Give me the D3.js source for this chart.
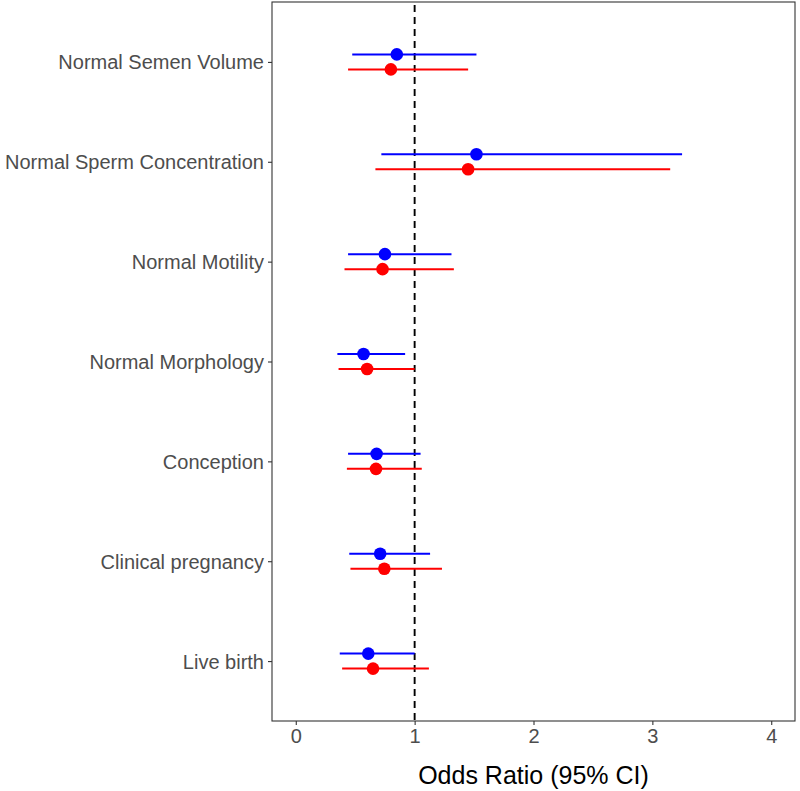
<!DOCTYPE html>
<html><head><meta charset="utf-8">
<script src="https://cdn.jsdelivr.net/npm/d3@7"></script>
<style>body{margin:0;background:#fff}svg{display:block}</style>
</head><body><svg id="c" width="800" height="791"></svg>
<script>
const categories = ["Normal Semen Volume","Normal Sperm Concentration","Normal Motility","Normal Morphology","Conception","Clinical pregnancy","Live birth"];
const blueOR = [0.85, 1.52, 0.75, 0.57, 0.68, 0.71, 0.61];
const blueLo = [0.475, 0.72, 0.44, 0.35, 0.44, 0.45, 0.37];
const blueHi = [1.52, 3.25, 1.31, 0.92, 1.05, 1.13, 1.0];
const redOR = [0.80, 1.45, 0.73, 0.60, 0.675, 0.745, 0.65];
const redLo = [0.44, 0.67, 0.41, 0.36, 0.43, 0.46, 0.39];
const redHi = [1.45, 3.15, 1.33, 1.0, 1.06, 1.23, 1.12];
const xTicks = [0, 1, 2, 3, 4];

const svg = d3.select("#c");
const L = 272, R = 795, T = 2, B = 721;
const FONT = "Liberation Sans, Arial, sans-serif";
const x = d3.scaleLinear().domain([-0.2, 4.2]).range([L, R]);
const yIdx = d3.scaleLinear().domain([0.4, 7.6]).range([B, T]);
const yPos = i => yIdx(7 - i) + 0.5;

svg.append("rect").attr("x", L).attr("y", T).attr("width", R - L).attr("height", B - T)
  .attr("fill", "#fff").attr("stroke", "#333").attr("stroke-width", 1.1);

svg.append("line").attr("x1", x(1)).attr("x2", x(1)).attr("y1", T + 3).attr("y2", B)
  .attr("stroke", "#000").attr("stroke-width", 1.9).attr("stroke-dasharray", "7,5");

const series = [
  {or: blueOR, lo: blueLo, hi: blueHi, color: "#0000FF", dy: -8},
  {or: redOR, lo: redLo, hi: redHi, color: "#FF0000", dy: 7}
];
series.forEach(s => {
  const g = svg.append("g");
  categories.forEach((c, i) => {
    const yy = yPos(i) + s.dy;
    g.append("line").attr("x1", x(s.lo[i])).attr("x2", x(s.hi[i])).attr("y1", yy).attr("y2", yy)
      .attr("stroke", s.color).attr("stroke-width", 2);
    g.append("circle").attr("cx", x(s.or[i])).attr("cy", yy).attr("r", 6.3).attr("fill", s.color);
  });
});

// x axis
const xa = svg.append("g").attr("transform", `translate(0,${B})`)
  .call(d3.axisBottom(x).tickValues(xTicks).tickSize(4).tickPadding(4).tickFormat(d3.format("d")));
xa.select(".domain").remove();
xa.selectAll("line").attr("stroke", "#333").attr("stroke-width", 1.1);
xa.selectAll("text").attr("fill", "#4d4d4d").style("font-family", FONT).style("font-size", "20px");

// y axis
const ya = svg.append("g").attr("transform", `translate(${L},0)`);
categories.forEach((c, i) => {
  ya.append("line").attr("x1", -4).attr("x2", 0).attr("y1", yPos(i)).attr("y2", yPos(i))
    .attr("stroke", "#333").attr("stroke-width", 1.1);
  ya.append("text").attr("x", -8).attr("y", yPos(i)).attr("dy", "0.35em").attr("text-anchor", "end")
    .attr("fill", "#4d4d4d").style("font-family", FONT).style("font-size", "20px")
    .text(c);
});

svg.append("text").attr("x", (L + R) / 2).attr("y", 784).attr("text-anchor", "middle")
  .attr("fill", "#000").style("font-family", FONT).style("font-size", "25px")
  .text("Odds Ratio (95% CI)");
</script></body></html>
